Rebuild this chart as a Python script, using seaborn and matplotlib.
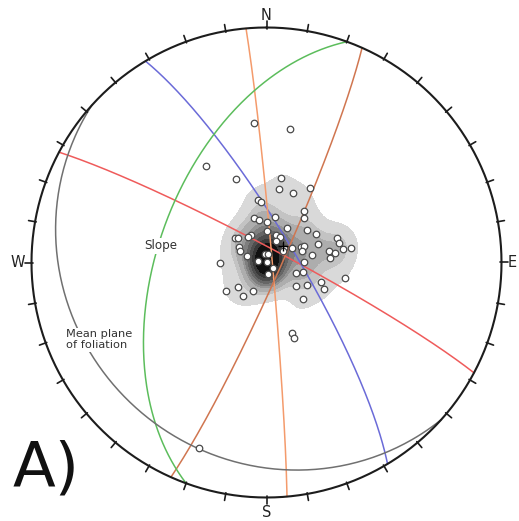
import numpy as np
import pandas as pd
import matplotlib
matplotlib.use("Agg")
import matplotlib.pyplot as plt
import seaborn as sns
from matplotlib.colors import ListedColormap

# Poles to foliation (trend / plunge, degrees) and number of coincident readings
pole_trend = [355, 10, 328, 340, 200, 160, 160, 101, 269, 10,
              10, 21, 30, 352, 355, 36, 40, 10, 344, 350,
              0, 31, 0, 51, 60, 330, 324, 308, 310, 20,
              27, 25, 71, 75, 300, 293, 288, 50, 56, 60,
              66, 66, 72, 70, 81, 80, 82, 86, 80, 80,
              90, 110, 105, 128, 119, 110, 115, 135, 235, 229,
              215, 205, 351, 13, 278, 166, 132, 172]
pole_plunge = [40, 42, 50, 59, 17, 64, 62, 62, 74, 60,
               64, 64, 60, 68, 69, 68, 70, 74, 74, 75,
               76, 76, 79, 72, 70, 79, 79, 76, 77, 80,
               80, 82, 64, 64, 79, 80, 83, 82, 83, 80,
               77, 76, 77, 71, 74, 68, 66, 68, 63, 60,
               77, 79, 77, 77, 74, 70, 68, 72, 73, 77,
               76, 79, 87, 87, 87, 90, 87, 86]
pole_count = [1] * 62 + [4, 4, 4, 5, 4, 4]

# Mean pole of the foliation
mean_trend, mean_plunge = 45, 82

# Planes as great circles (dip direction / dip, degrees)
plane_names = ["J1", "J2", "J3", "J4", "Slope", "Foliation"]
plane_dipdir = [28, 59, 85, 114, 290, 222]
plane_dip = [85, 80, 88, 85, 52, 18]
plane_colors = ["#ef5b5b", "#6b6bd8", "#f49b6c", "#d07650", "#5cbd5c", "#707070"]

cardinals = ["N", "E", "S", "W"]


def project(trend, plunge):
    """Lower-hemisphere equal-area (Schmidt) projection onto a unit net."""
    t = np.radians(np.asarray(trend, dtype=float))
    p = np.radians(np.asarray(plunge, dtype=float))
    r = np.sqrt(2.0) * np.sin((np.pi / 2 - p) / 2)
    return r * np.sin(t), r * np.cos(t)


def great_circle(dipdir, dip, n=241):
    dd, dp = np.radians(dipdir), np.radians(dip)
    st = dd - np.pi / 2
    s = np.array([np.sin(st), np.cos(st), 0.0])
    d = np.array([np.sin(dd) * np.cos(dp), np.cos(dd) * np.cos(dp), -np.sin(dp)])
    t = np.linspace(0, np.pi, n)
    v = np.outer(np.cos(t), s) + np.outer(np.sin(t), d)
    plunge = np.degrees(np.arcsin(np.clip(-v[:, 2], -1, 1)))
    trend = np.degrees(np.arctan2(v[:, 0], v[:, 1]))
    return project(trend, plunge)


sns.set_theme(style="white")
plt.rcParams["font.family"] = ["DejaVu Sans"]

fig = plt.figure(figsize=(5.19, 5.21), dpi=100)
ax = fig.add_axes([0, 0, 1, 1])
ax.set_xlim(-266.5 / 235, (519 - 266.5) / 235)
ax.set_ylim(-(521 - 262.5) / 235, 262.5 / 235)
ax.axis("off")

px, py = project(pole_trend, pole_plunge)
poles = pd.DataFrame({"x": px, "y": py, "n": pole_count})

# Pole density contours
grey_cmap = ListedColormap(["#d9d9d9", "#c3c3c3", "#adadad", "#969696", "#7e7e7e",
                            "#666666", "#4e4e4e", "#383838", "#242424", "#111111",
                            "#000000"])
sns.kdeplot(data=poles, x="x", y="y", weights="n", fill=True, cmap=grey_cmap,
            levels=[0.18, 0.26, 0.37, 0.47, 0.55, 0.62, 0.68, 0.74, 0.79, 0.84, 0.89, 1.0],
            bw_adjust=0.72, gridsize=300, ax=ax, zorder=1)

# Great circles
for name, ddir, dip, col in zip(plane_names, plane_dipdir, plane_dip, plane_colors):
    gx, gy = great_circle(ddir, dip)
    gc = pd.DataFrame({"x": gx, "y": gy})
    sns.lineplot(data=gc, x="x", y="y", sort=False, estimator=None,
                 color=col, lw=1.1, ax=ax, zorder=2)

# Primitive circle and 10-degree ticks
az = np.linspace(0, 2 * np.pi, 721)
ax.plot(np.sin(az), np.cos(az), color="#1c1c1c", lw=1.5, zorder=4)
for a in np.radians(np.arange(0, 360, 10)):
    ax.plot([0.995 * np.sin(a), 1.028 * np.sin(a)],
            [0.995 * np.cos(a), 1.028 * np.cos(a)], color="#1c1c1c", lw=1.2, zorder=4)

# Poles
sns.scatterplot(data=poles, x="x", y="y", s=22, color="white",
                edgecolor="#4a4a4a", linewidth=0.9, ax=ax, zorder=5)
mx, my = project(mean_trend, mean_plunge)
ax.plot(mx, my, marker="+", color="black", ms=7, mew=1.0, zorder=6)

# Labels
lab_kw = dict(fontsize=10.5, color="#222222")
ax.text(0, 1.032, cardinals[0], ha="center", va="baseline", **lab_kw)
ax.text(1.028, 0.0, cardinals[1], ha="left", va="center", **lab_kw)
ax.text(0, -1.082, cardinals[2], ha="center", va="baseline", **lab_kw)
ax.text(-1.026, 0.0, cardinals[3], ha="right", va="center", **lab_kw)

box = dict(facecolor="white", edgecolor="none", pad=1.0)
ax.text(-0.521, 0.056, "Slope", fontsize=8.6, color="#333333", va="baseline",
        bbox=box, zorder=7)
ax.text(-0.8545, -0.365, "Mean plane\nof foliation", fontsize=8.2, color="#333333",
        va="baseline", linespacing=1.1, bbox=box, zorder=7)

ax.text(-1.079, -0.955, "A)", fontsize=45, color="#111111", va="baseline")

fig.savefig("out.png", dpi=100)
